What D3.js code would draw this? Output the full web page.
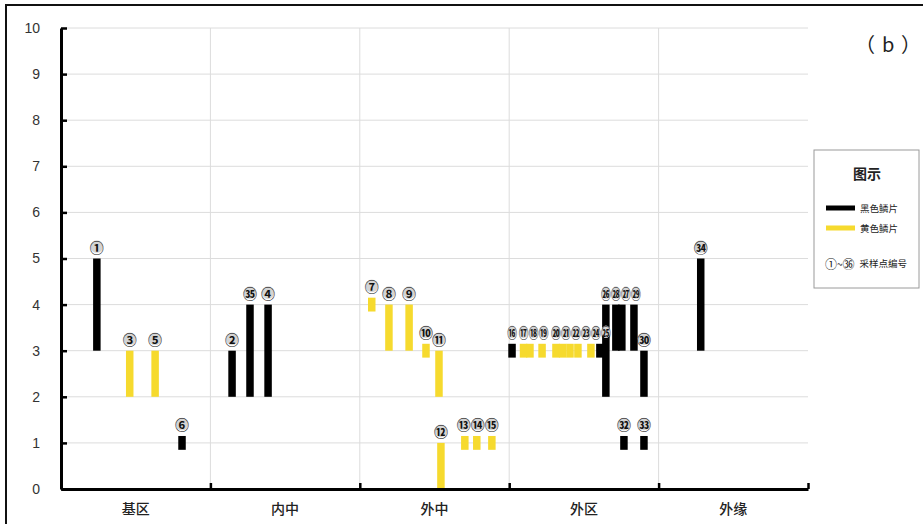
<!DOCTYPE html>
<html>
<head>
<meta charset="utf-8">
<script src="https://cdn.jsdelivr.net/npm/d3@7"></script>
<style>
  html, body { margin: 0; padding: 0; background: #fff; }
  svg { display: block; }
</style>
</head>
<body>
<svg id="chart" width="923" height="524"></svg>
<script>
// Zones along the profile
const zones = ["基区", "内中", "外中", "外区", "外缘"];
const yTicks = [0, 1, 2, 3, 4, 5, 6, 7, 8, 9, 10];

// Sampling points: label, zone index, relative location inside the zone,
// scale range (low/high) and scale colour
const sampleIds   = ["①","③","⑤","⑥",
                     "②","㉟","④",
                     "⑦","⑧","⑨","⑩","⑪","⑫","⑬","⑭","⑮",
                     "⑯","⑰","⑱","⑲","⑳","㉑","㉒","㉓","㉔","㉕","㉖","㉘","㉗","㉙","㉚","㉜","㉝",
                     "㉞"];
const sampleZone  = [0,0,0,0,
                     1,1,1,
                     2,2,2,2,2,2,2,2,2,
                     3,3,3,3,3,3,3,3,3,3,3,3,3,3,3,3,3,
                     4];
const sampleLoc   = [0.24,0.46,0.63,0.81,
                     0.145,0.265,0.386,
                     0.08,0.195,0.33,0.443,0.53,0.543,0.703,0.783,0.884,
                     0.019,0.096,0.139,0.22,0.313,0.358,0.407,0.46,0.547,0.607,0.647,0.714,0.754,0.835,0.902,0.768,0.902,
                     0.282];
const sampleLow   = [3,2,2,0.85,
                     2,2,2,
                     3.85,3,3,2.85,2,0,0.85,0.85,0.85,
                     2.85,2.85,2.85,2.85,2.85,2.85,2.85,2.85,2.85,2.85,2,3,3,3,2,0.85,0.85,
                     3];
const sampleHigh  = [5,3,3,1.15,
                     3,4,4,
                     4.15,4,4,3.15,3,1,1.15,1.15,1.15,
                     3.15,3.15,3.15,3.15,3.15,3.15,3.15,3.15,3.15,3.15,4,4,4,4,3,1.15,1.15,
                     5];
const sampleType  = ["黑","黄","黄","黑",
                     "黑","黑","黑",
                     "黄","黄","黄","黄","黄","黄","黄","黄","黄",
                     "黑","黄","黄","黄","黄","黄","黄","黄","黄","黑","黑","黑","黑","黑","黑","黑","黑",
                     "黑"];

const legendItems = [
  { key: "黑", label: "黑色鳞片" },
  { key: "黄", label: "黄色鳞片" }
];
const legendRange = ["①", "㊱", "采样点编号"];
const panelTag = ["（", "b", "）"];

const colour = { "黑": "#000000", "黄": "#f6da2e" };

const svg = d3.select("#chart");
const W = 923, H = 524;
const plot = { left: 61, right: 808, top: 28, bottom: 489 };
const labelFont = "'Noto Sans CJK JP', 'Noto Sans CJK SC', sans-serif";

// outer frame
svg.append("rect")
  .attr("x", 6).attr("y", 5)
  .attr("width", W).attr("height", H)
  .attr("fill", "none").attr("stroke", "#111").attr("stroke-width", 2);

const x = d3.scaleLinear().domain([0, zones.length]).range([plot.left, plot.right]);
const xBand = d3.scaleBand().domain(zones).range([plot.left, plot.right]);
const y = d3.scaleLinear().domain([0, 10]).range([plot.bottom, plot.top]);

// grid
const grid = svg.append("g");
grid.selectAll("line.h").data(yTicks.filter(d => d > 0)).join("line")
  .attr("x1", plot.left).attr("x2", plot.right)
  .attr("y1", d => y(d)).attr("y2", d => y(d))
  .attr("stroke", "#dcdcdc").attr("stroke-width", 1);
grid.selectAll("line.v").data(d3.range(1, zones.length)).join("line")
  .attr("x1", d => x(d)).attr("x2", d => x(d))
  .attr("y1", plot.top).attr("y2", plot.bottom)
  .attr("stroke", "#dcdcdc").attr("stroke-width", 1);

// bars
const samples = sampleIds.map((id, i) => ({
  id, zone: sampleZone[i], loc: sampleLoc[i],
  low: sampleLow[i], high: sampleHigh[i], type: sampleType[i]
}));
samples.forEach(d => { d.bx = x(d.zone + d.loc); d.ly = y(d.high) - 12; d.lx = d.bx; d.sx = 1; });

const barW = 7.5;
const bars = svg.append("g");
bars.selectAll("rect").data(samples).join("rect")
  .attr("x", d => d.bx - barW / 2)
  .attr("y", d => y(d.high))
  .attr("width", barW)
  .attr("height", d => y(d.low) - y(d.high))
  .attr("fill", d => colour[d.type]);

// sample labels: runs of close labels on one row are narrowed and spread evenly
const rows = d3.group(samples, d => Math.round(d.ly));
const chainGap = 15, tightGap = 10;
for (const row of rows.values()) {
  row.sort((a, b) => a.bx - b.bx);
  const clusters = [];
  row.forEach((d, i) => {
    if (i > 0 && d.bx - row[i - 1].bx < chainGap) clusters[clusters.length - 1].push(d);
    else clusters.push([d]);
  });
  clusters.forEach(c => {
    const tight = c.some((d, i) => i > 0 && d.bx - c[i - 1].bx < tightGap);
    const gap = tight ? 10 : 14;
    c.forEach((d, i) => {
      if (tight) d.sx = 0.7;
      if (i > 0) d.lx = Math.max(d.lx, c[i - 1].lx + gap);
    });
    if (!tight) {
      const shift = d3.mean(c, d => d.lx - d.bx);
      c.forEach(d => { d.lx -= shift; });
    }
  });
}
const labels = bars.selectAll("g.lbl").data(samples).join("g")
  .attr("class", "lbl")
  .attr("transform", d => `translate(${d.lx},${d.ly}) scale(${d.sx},1)`);
labels.append("circle")
  .attr("r", 6.3).attr("cy", 0)
  .attr("fill", "#d4d4d4");
labels.append("text")
  .attr("text-anchor", "middle")
  .attr("dominant-baseline", "central")
  .attr("font-family", labelFont)
  .attr("font-size", 14)
  .attr("font-weight", 700)
  .attr("fill", "#111")
  .text(d => d.id);

// y axis
const yAxis = svg.append("g")
  .attr("transform", `translate(${plot.left},0)`)
  .call(d3.axisLeft(y).tickValues(yTicks).tickSizeInner(-6).tickSizeOuter(0).tickPadding(21));
yAxis.select(".domain").attr("stroke", "#000").attr("stroke-width", 3);
yAxis.selectAll(".tick line").attr("stroke", "#000").attr("stroke-width", 2.5);
yAxis.selectAll(".tick text")
  .attr("font-family", "'Liberation Sans', Arial, sans-serif")
  .attr("font-size", 14).attr("fill", "#333");

// x axis (zone boundaries)
const xAxis = svg.append("g")
  .attr("transform", `translate(0,${plot.bottom})`)
  .call(d3.axisBottom(x).tickValues(d3.range(0, zones.length + 1)).tickSizeInner(-6).tickSizeOuter(0).tickFormat(""));
xAxis.select(".domain").attr("stroke", "#000").attr("stroke-width", 3);
xAxis.selectAll(".tick line").attr("stroke", "#000").attr("stroke-width", 2.5);

// zone labels
const zAxis = svg.append("g")
  .attr("transform", `translate(0,${plot.bottom})`)
  .call(d3.axisBottom(xBand).tickSize(0).tickPadding(15));
zAxis.select(".domain").remove();
zAxis.selectAll(".tick text")
  .attr("font-family", "'Noto Sans CJK SC', sans-serif")
  .attr("font-size", 14).attr("font-weight", 500).attr("fill", "#222");

// panel tag
const tag = svg.append("text")
  .attr("y", 43)
  .attr("dominant-baseline", "central")
  .attr("font-family", "'Noto Sans CJK SC', sans-serif")
  .attr("font-size", 20).attr("fill", "#222");
tag.selectAll("tspan").data(panelTag).join("tspan")
  .attr("x", (d, i) => [855, 882, 901][i])
  .text(d => d);

// legend
const lg = svg.append("g");
lg.append("rect")
  .attr("x", 814).attr("y", 150).attr("width", 105).attr("height", 138)
  .attr("fill", "#fff").attr("stroke", "#9a9a9a").attr("stroke-width", 1);
lg.append("text")
  .attr("x", 867).attr("y", 173)
  .attr("text-anchor", "middle").attr("dominant-baseline", "central")
  .attr("font-family", "'Noto Sans CJK SC', sans-serif")
  .attr("font-size", 14).attr("font-weight", 700).attr("fill", "#222")
  .text("图示");
const items = lg.selectAll("g.item").data(legendItems).join("g")
  .attr("transform", (d, i) => `translate(0,${208 + i * 20})`);
items.append("rect")
  .attr("x", 826).attr("y", -2.5).attr("width", 29).attr("height", 5)
  .attr("fill", d => colour[d.key]);
items.append("text")
  .attr("x", 860).attr("y", 0)
  .attr("dominant-baseline", "central")
  .attr("font-family", "'Noto Sans CJK SC', sans-serif")
  .attr("font-size", 9.5).attr("fill", "#222")
  .text(d => d.label);
const rangeRow = lg.append("text")
  .attr("x", 825).attr("y", 263)
  .attr("dominant-baseline", "central")
  .attr("font-family", "'Noto Sans CJK SC', sans-serif")
  .attr("fill", "#222");
rangeRow.append("tspan").attr("font-size", 12).text(legendRange[0]);
rangeRow.append("tspan").attr("font-size", 10).text("~");
rangeRow.append("tspan").attr("font-size", 12).text(legendRange[1]);
rangeRow.append("tspan").attr("font-size", 9.5).attr("dx", 5).text(legendRange[2]);
</script>
</body>
</html>
